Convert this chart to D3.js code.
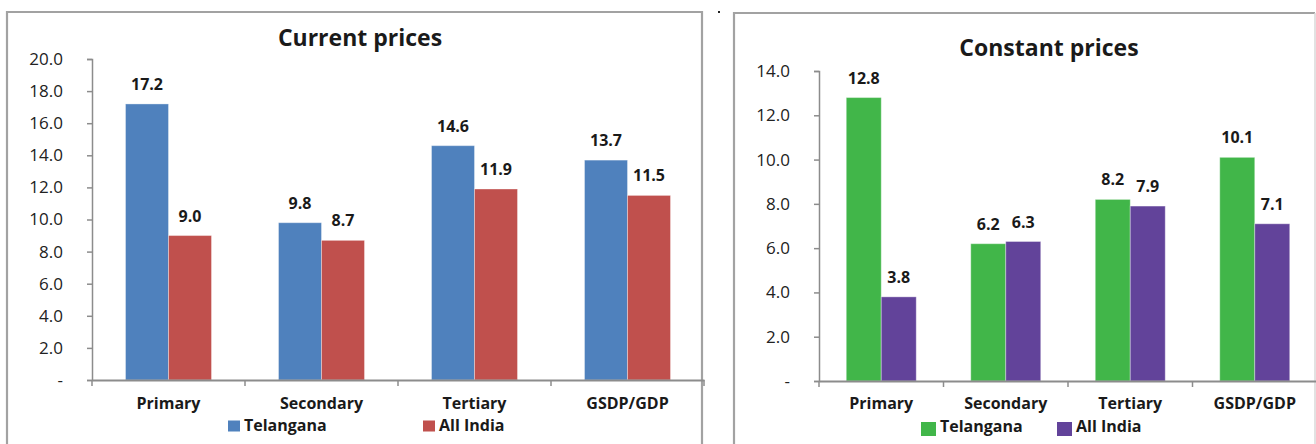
<!DOCTYPE html>
<html><head><meta charset="utf-8">
<script src="https://cdn.jsdelivr.net/npm/d3@7"></script>
<style>
html,body{margin:0;padding:0;background:#fff;}
svg{display:block;font-family:"Open Sans",sans-serif;}
</style></head>
<body>
<svg id="c" width="1316" height="444"></svg>
<script>
const categories = ["Primary","Secondary","Tertiary","GSDP/GDP"];
const seriesNames = ["Telangana","All India"];
const currentTelangana = [17.2, 9.8, 14.6, 13.7];
const currentAllIndia = [9.0, 8.7, 11.9, 11.5];
const constantTelangana = [12.8, 6.2, 8.2, 10.1];
const constantAllIndia = [3.8, 6.3, 7.9, 7.1];
const currentTicks = [0,2,4,6,8,10,12,14,16,18,20];
const constantTicks = [0,2,4,6,8,10,12,14];

const svg = d3.select("#c");

// panel borders
svg.append("path").attr("d","M7,444 V12 H702 V444").attr("fill","none").attr("stroke","#a2a2a2").attr("stroke-width",2.2);
svg.append("path").attr("d","M734,444 V13 H1315").attr("fill","none").attr("stroke","#a2a2a2").attr("stroke-width",2.2);
svg.append("path").attr("d","M1315,13 V444").attr("fill","none").attr("stroke","#d8d8d8").attr("stroke-width",1.5);
svg.append("rect").attr("x",718).attr("y",11).attr("width",2).attr("height",2).attr("fill","#222");

function drawChart(cfg){
  const g = svg.append("g");
  const x0 = d3.scaleBand().domain(categories).range([cfg.x0, cfg.x1]).padding(0);
  const bw = x0.bandwidth();
  const x1 = d3.scaleBand().domain(seriesNames).range([bw*0.219, bw*0.781]).padding(0);
  const y = d3.scaleLinear().domain([0, cfg.max]).range([cfg.yBottom, cfg.yTop]);
  const data = [cfg.a, cfg.b];

  // y axis
  const yAxis = d3.axisLeft(y).tickValues(cfg.ticks).tickSize(5).tickPadding(24)
    .tickFormat(d => d === 0 ? "-" : d3.format(".1f")(d));
  const ya = g.append("g").attr("transform",`translate(${cfg.x0},0)`).call(yAxis);
  ya.select(".domain").attr("stroke","#8c8c8c").attr("stroke-width",1.5);
  ya.selectAll(".tick line").attr("stroke","#8c8c8c").attr("stroke-width",1.5);
  ya.selectAll(".tick text").attr("font-size",17).attr("fill","#222").attr("font-family","Open Sans, sans-serif");

  // bars
  categories.forEach((c,ci)=>{
    seriesNames.forEach((s,si)=>{
      const v = data[si][ci];
      g.append("rect")
        .attr("x", x0(c)+x1(s)).attr("width", x1.bandwidth())
        .attr("y", y(v)).attr("height", y(0)-y(v))
        .attr("fill", cfg.colors[si]).attr("stroke","rgba(255,255,255,0.35)").attr("stroke-width",1);
      g.append("text")
        .attr("x", x0(c)+x1(s)+x1.bandwidth()/2).attr("y", y(v)-14)
        .attr("text-anchor","middle").attr("font-weight","bold").attr("font-size",16)
        .attr("fill","#1a1a1a").text(d3.format(".1f")(v));
    });
  });

  // x axis
  const xAxis = d3.axisBottom(x0).tickSize(0).tickPadding(0).tickFormat("");
  const xa = g.append("g").attr("transform",`translate(0,${cfg.yBottom})`).call(xAxis);
  xa.select(".domain").attr("stroke","#8c8c8c").attr("stroke-width",2);
  const bounds = categories.map(c=>x0(c)).concat([cfg.x1]);
  g.selectAll(".xt").data(bounds).enter().append("line")
    .attr("x1",d=>d).attr("x2",d=>d).attr("y1",cfg.yBottom).attr("y2",cfg.yBottom+6)
    .attr("stroke","#8c8c8c").attr("stroke-width",1.5);
  g.selectAll(".xl").data(categories).enter().append("text")
    .attr("x",d=>x0(d)+bw/2).attr("y",cfg.catY)
    .attr("text-anchor","middle").attr("font-weight","bold").attr("font-size",16)
    .attr("fill","#1a1a1a").text(d=>d);

  // title
  g.append("text").attr("x",cfg.titleX).attr("y",cfg.titleY).attr("text-anchor","middle")
    .attr("font-weight","bold").attr("font-size",23).attr("fill","#1a1a1a").text(cfg.title);

  // legend
  seriesNames.forEach((s,si)=>{
    const lx = cfg.legendX[si];
    g.append("rect").attr("x",lx).attr("y",cfg.legendY-10).attr("width",cfg.sq).attr("height",cfg.sq-1).attr("fill",cfg.colors[si]);
    g.append("text").attr("x",lx+cfg.sq+4).attr("y",cfg.legendY).attr("font-weight","bold").attr("font-size",16)
      .attr("fill","#1a1a1a").text(s);
  });
}

drawChart({x0:92, x1:704, yTop:59, yBottom:380, max:20, ticks:currentTicks,
  a:currentTelangana, b:currentAllIndia, colors:["#4F81BD","#C0504D"],
  title:"Current prices", titleX:360, titleY:46, catY:408.5,
  legendX:[228,423], legendY:430.5, sq:12});

drawChart({x0:819, x1:1317, yTop:71, yBottom:381, max:14, ticks:constantTicks,
  a:constantTelangana, b:constantAllIndia, colors:["#41B649","#62439A"],
  title:"Constant prices", titleX:1049, titleY:56, catY:409,
  legendX:[921,1057], legendY:432, sq:15});
</script>
</body></html>
